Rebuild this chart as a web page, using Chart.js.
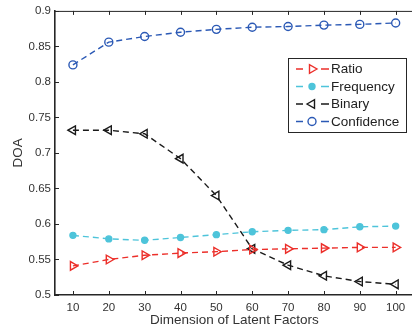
<!DOCTYPE html>
<html>
<head>
<meta charset="utf-8">
<script src="https://cdn.jsdelivr.net/npm/chart.js@4"></script>
<style>
  html, body { margin: 0; padding: 0; background: #fff; overflow: hidden; width: 412px; height: 328px; }
  #wrap { width: 420px; height: 328px; }
</style>
</head>
<body>
<div id="wrap"><canvas id="doaChart" width="420" height="328"></canvas></div>
<script>
// DOA vs. dimension of latent factors
const dims = [10, 20, 30, 40, 50, 60, 70, 80, 90, 100];
const ratio = [0.541, 0.550, 0.556, 0.559, 0.561, 0.564, 0.565, 0.566, 0.567, 0.567];
const frequency = [0.584, 0.579, 0.577, 0.581, 0.585, 0.589, 0.591, 0.592, 0.596, 0.597];
const binary = [0.732, 0.732, 0.727, 0.692, 0.640, 0.565, 0.542, 0.527, 0.519, 0.515];
const confidence = [0.824, 0.856, 0.864, 0.870, 0.874, 0.877, 0.878, 0.880, 0.881, 0.883];
const yTicks = [0.5, 0.55, 0.6, 0.65, 0.7, 0.75, 0.8, 0.85, 0.9];

const FONT = '"Liberation Sans", Arial, Helvetica, sans-serif';
const AXIS = '#262626';

function series(label, values, color, style, rotation, radius, filled) {
    return {
        label: label,
        data: dims.map((d, i) => ({ x: d, y: values[i] })),
        borderColor: color,
        backgroundColor: filled ? color : 'rgba(0,0,0,0)',
        borderWidth: 1.4,
        borderDash: [6, 4],
        pointStyle: style,
        rotation: rotation,
        pointRadius: radius,
        pointBorderColor: color,
        pointBackgroundColor: filled ? color : 'rgba(0,0,0,0)',
        pointBorderWidth: 1.4,
        tension: 0
    };
}

// inward ticks + top frame, matlab style
const frameTicks = {
    id: 'frameTicks',
    afterDraw(chart) {
        const { ctx, chartArea: a, scales: { x, y } } = chart;
        ctx.save();
        ctx.strokeStyle = AXIS;
        ctx.lineWidth = 1;
        ctx.beginPath();
        ctx.moveTo(a.left, a.top + 0.5);
        ctx.lineTo(a.right, a.top + 0.5);
        dims.forEach(v => {
            const px = Math.round(x.getPixelForValue(v)) + 0.5;
            ctx.moveTo(px, a.bottom); ctx.lineTo(px, a.bottom - 4);
            ctx.moveTo(px, a.top); ctx.lineTo(px, a.top + 4);
        });
        yTicks.forEach(v => {
            const py = Math.round(y.getPixelForValue(v)) + 0.5;
            ctx.moveTo(a.left, py); ctx.lineTo(a.left + 4, py);
        });
        ctx.stroke();
        ctx.restore();
    }
};

// legend box drawn in the chart area
const boxLegend = {
    id: 'boxLegend',
    afterDraw(chart) {
        const ctx = chart.ctx;
        const bx = 288, by = 58, bw = 118, bh = 74;
        ctx.save();
        ctx.fillStyle = '#fff';
        ctx.fillRect(bx, by, bw, bh);
        ctx.strokeStyle = AXIS;
        ctx.lineWidth = 1;
        ctx.strokeRect(bx + 0.5, by + 0.5, bw, bh);
        ctx.font = '13.5px ' + FONT;
        ctx.textBaseline = 'middle';
        chart.data.datasets.forEach((ds, i) => {
            const cy = by + 11 + i * 17.5;
            ctx.strokeStyle = ds.borderColor;
            ctx.lineWidth = 1.4;
            ctx.beginPath();
            ctx.moveTo(296, cy); ctx.lineTo(303, cy);
            ctx.moveTo(321, cy); ctx.lineTo(329, cy);
            ctx.stroke();
            ctx.fillStyle = ds.pointBackgroundColor;
            ctx.strokeStyle = ds.pointBorderColor;
            Chart.helpers.drawPoint(ctx, {
                pointStyle: ds.pointStyle,
                rotation: ds.rotation,
                radius: ds.pointRadius,
                borderWidth: 1.4
            }, 312, cy);
            ctx.fillStyle = '#222';
            ctx.fillText(ds.label, 331, cy + 0.5);
        });
        ctx.restore();
    }
};

new Chart(document.getElementById('doaChart'), {
    type: 'line',
    data: {
        datasets: [
            series('Ratio', ratio, '#ec2f2a', 'triangle', 90, 5, false),
            series('Frequency', frequency, '#4ec4da', 'circle', 0, 3, true),
            series('Binary', binary, '#1a1a1a', 'triangle', -90, 5, false),
            series('Confidence', confidence, '#2b59b5', 'circle', 0, 4, false)
        ]
    },
    options: {
        responsive: false,
        animation: false,
        layout: { padding: { top: 8, right: 0, left: 0, bottom: 0 } },
        plugins: { legend: { display: false }, tooltip: { enabled: false } },
        scales: {
            x: {
                type: 'linear',
                min: 5,
                max: 105,
                afterBuildTicks: axis => { axis.ticks = dims.map(v => ({ value: v })); },
                afterFit: scale => { scale.height = 33; },
                grid: { drawOnChartArea: false, drawTicks: false },
                border: { color: AXIS, width: 1.6 },
                ticks: { color: '#333', font: { family: FONT, size: 11.5 }, padding: 6, maxRotation: 0 },
                title: { display: true, text: 'Dimension of Latent Factors', color: '#333',
                         font: { family: FONT, size: 13.5 }, padding: { top: 0, bottom: 0 } }
            },
            y: {
                min: 0.5,
                max: 0.9,
                afterBuildTicks: axis => { axis.ticks = yTicks.map(v => ({ value: v })); },
                afterFit: scale => { scale.width = 55; },
                grid: { drawOnChartArea: false, drawTicks: false },
                border: { color: AXIS, width: 1.6 },
                ticks: { color: '#333', font: { family: FONT, size: 11.5 }, padding: 4,
                         callback: v => String(Number(v.toFixed(2))) },
                title: { display: true, text: 'DOA', color: '#333',
                         font: { family: FONT, size: 13.5 }, padding: { top: 10, bottom: 0 } }
            }
        }
    },
    plugins: [frameTicks, boxLegend]
});
</script>
</body>
</html>
